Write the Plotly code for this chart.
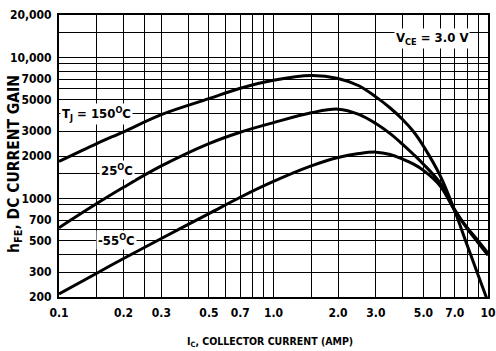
import math
import plotly.graph_objects as go

# Collector current (A)
current_amp = [0.1, 0.15, 0.2, 0.3, 0.5, 0.7, 1.0, 1.5, 2.0, 2.5, 3.0, 3.5, 4.0, 4.5, 5.0, 6.0, 7.0, 8.0, 9.0, 10.0]
# DC current gain at each junction temperature
hfe_150c = [1830, 2450, 2970, 3930, 5100, 6050, 6900, 7450, 7100, 6300, 5250, 4380, 3630, 2970, 2350, 1440, 815, 465, 285, 185]
hfe_25c = [620, 920, 1200, 1700, 2450, 2950, 3450, 4050, 4300, 3950, 3400, 2880, 2420, 2050, 1750, 1280, 830, 610, 485, 395]
hfe_m55c = [210, 295, 375, 520, 780, 1020, 1320, 1700, 1950, 2080, 2130, 2050, 1900, 1750, 1580, 1220, 820, 620, 500, 410]

# Grid / tick definitions
x_grid = [0.1, 0.15, 0.2, 0.25, 0.3, 0.4, 0.5, 0.6, 0.7, 0.8, 0.9, 1.0, 1.5, 2.0, 3.0, 4.0, 5.0, 6.0, 7.0, 8.0, 9.0, 10.0]
x_labels = {0.1: "0.1", 0.2: "0.2", 0.3: "0.3", 0.5: "0.5", 0.7: "0.7", 1.0: "1.0",
            2.0: "2.0", 3.0: "3.0", 5.0: "5.0", 7.0: "7.0", 10.0: "10"}
y_grid = [200, 300, 400, 500, 600, 700, 800, 900, 1000, 1500, 2000, 3000, 4000, 5000,
          6000, 7000, 8000, 9000, 10000, 15000, 20000]
y_labels = {200: "200", 300: "300", 500: "500", 700: "700", 1000: "1000", 2000: "2000",
            3000: "3000", 5000: "5000", 7000: "7000", 10000: "10,000", 20000: "20,000"}

FONT = "DejaVu Sans Condensed, Liberation Sans Narrow, Arial Narrow, sans-serif"

fig = go.Figure()
for ys in (hfe_150c, hfe_25c, hfe_m55c):
    fig.add_trace(go.Scatter(x=current_amp, y=ys, mode="lines",
                             line=dict(color="black", width=3, shape="spline", smoothing=1.0),
                             showlegend=False, hoverinfo="skip", cliponaxis=True))

axis_common = dict(type="log", showline=True, linecolor="black", linewidth=2, mirror=True,
                   showgrid=True, gridcolor="black", gridwidth=1.4, zeroline=False,
                   automargin=False, ticks="",
                   tickfont=dict(family=FONT, size=12, color="black", weight="bold"))

fig.update_xaxes(range=[-1, 1], tickmode="array", tickvals=x_grid,
                 ticktext=[x_labels.get(v, "") for v in x_grid], ticklabelstandoff=4, **axis_common)
fig.update_yaxes(range=[math.log10(200), math.log10(20000)], tickmode="array", tickvals=y_grid,
                 ticktext=[y_labels.get(v, "") for v in y_grid], ticklabelstandoff=3, **axis_common)

lab_font = dict(family=FONT, size=13, color="black", weight="bold")
curve_labels = [
    (0.15, 4000, "T<sub>J</sub> = 150<sup>O</sup>C"),
    (0.187, 1590, "25<sup>O</sup>C"),
    (0.185, 510, "-55<sup>O</sup>C"),
    (5.5, 13600, "V<sub>CE</sub> = 3.0 V"),
]
for lx, ly, txt in curve_labels:
    fig.add_annotation(x=math.log10(lx), y=math.log10(ly), xref="x", yref="y", showarrow=False,
                       text=txt, bgcolor="white", borderpad=1,
                       font=lab_font, xanchor="center", yanchor="middle")

fig.add_annotation(x=0.492, y=-0.16, xref="paper", yref="paper", showarrow=False,
                   text="I<sub>C</sub>, COLLECTOR CURRENT (AMP)",
                   font=dict(family=FONT, size=10.5, color="black", weight="bold"),
                   xanchor="center", yanchor="middle")
fig.add_annotation(x=-0.1026, y=0.472, xref="paper", yref="paper", showarrow=False,
                   text="h<sub>FE</sub>, DC CURRENT GAIN",
                   font=dict(family=FONT, size=15.5, color="black", weight="bold"), textangle=-90,
                   xanchor="center", yanchor="middle")

fig.update_layout(width=496, height=351, margin=dict(l=59, r=8, t=15, b=54, autoexpand=False),
                  paper_bgcolor="white", plot_bgcolor="white",
                  font=dict(family=FONT, color="black", weight="bold"))

fig.write_html("out.html")
